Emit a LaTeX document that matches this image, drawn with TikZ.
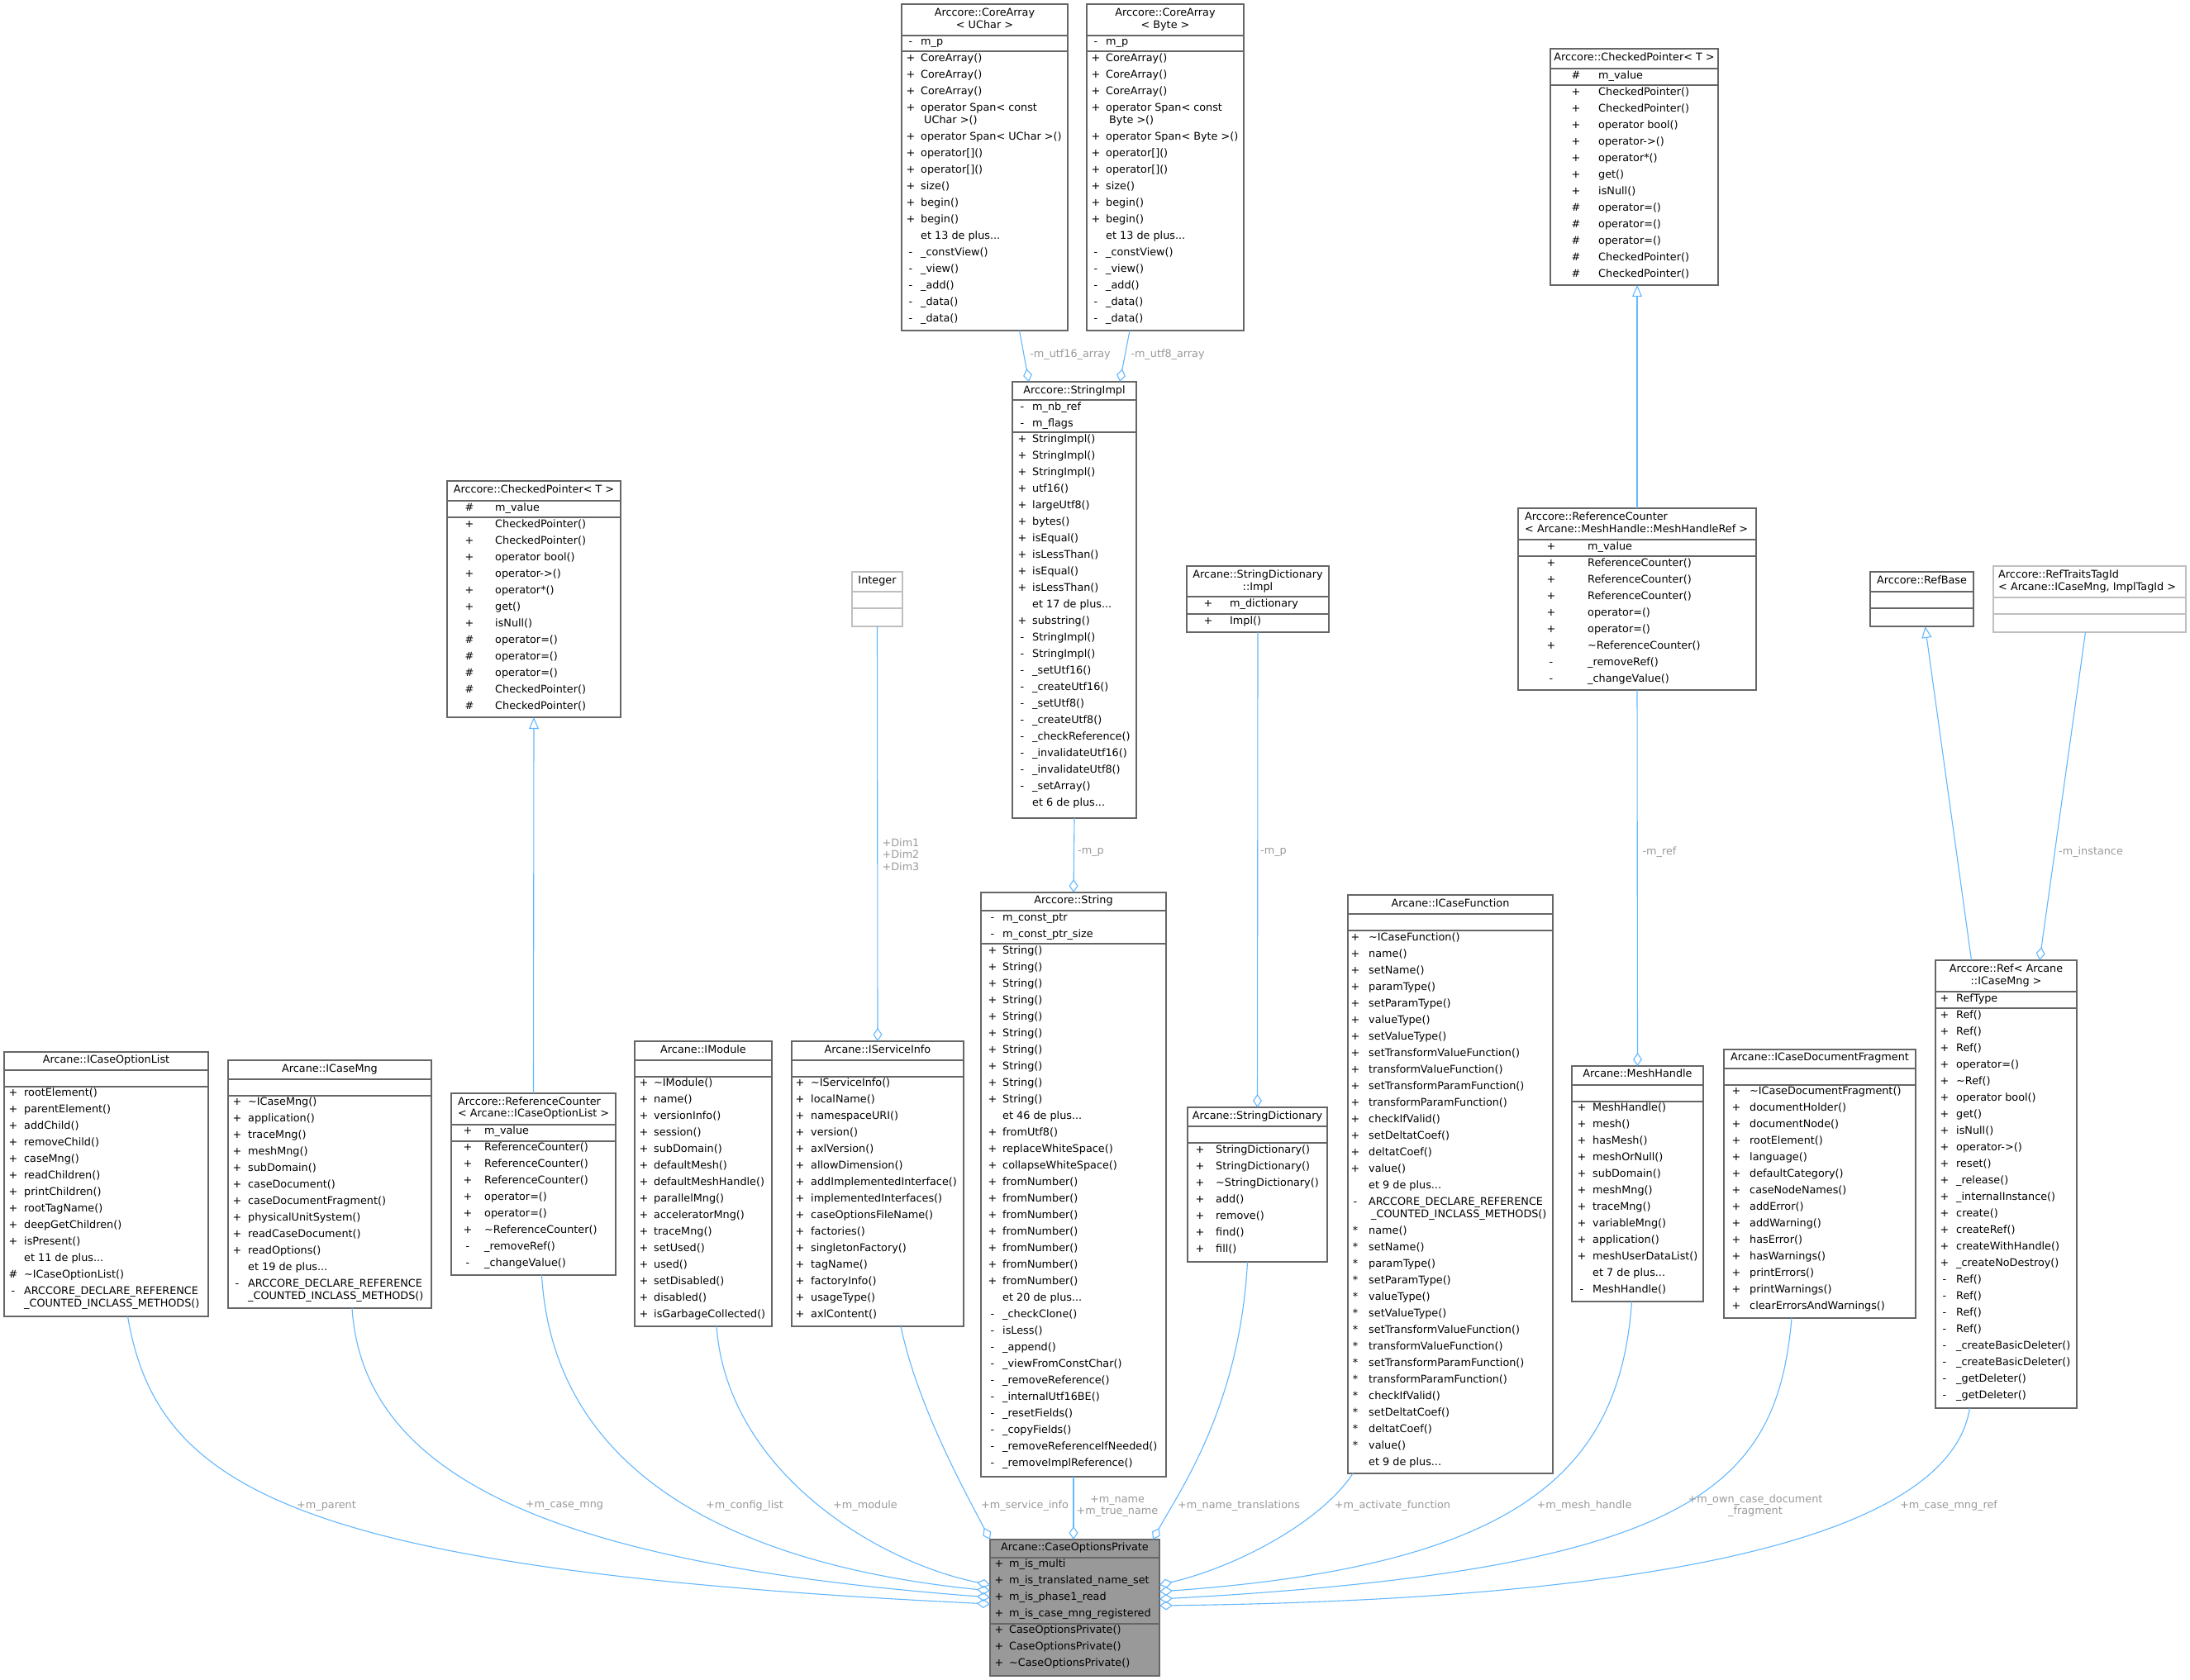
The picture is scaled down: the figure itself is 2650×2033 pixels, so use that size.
\documentclass[tikz,border=0pt]{standalone}
\usepackage{fontspec}
\setmainfont{DejaVu Sans}
\usetikzlibrary{arrows.meta,calc}
\definecolor{edgeblue}{HTML}{63B8FF}
\definecolor{lblgray}{HTML}{9A9A9A}
\definecolor{boxgray}{HTML}{666666}
\definecolor{lightbox}{HTML}{BFBFBF}
\definecolor{cpfill}{HTML}{999999}
\newcommand\dfont{\fontsize{12.8}{14.3}\selectfont}
\newcommand\etplus[1]{et #1 de plus...}
\def\contmark{c}
\tikzset{
  cls/.style={draw=boxgray, line width=1.2pt, fill=white, inner sep=0pt, outer sep=0pt},
  clslight/.style={cls, draw=lightbox},
  clsmain/.style={cls, fill=cpfill},
  symb/.style={anchor=mid, inner sep=0pt, font=\dfont},
  memb/.style={anchor=mid west, inner sep=0pt, font=\dfont},
  ttl/.style={anchor=mid, inner sep=0pt, font=\dfont},
  ttll/.style={anchor=mid west, inner sep=0pt, font=\dfont},
  agg/.style={draw=edgeblue, line width=1.1pt, -{Diamond[open, length=16pt, width=11pt]}},
  inh/.style={draw=edgeblue, line width=1.1pt, -{Triangle[open, length=14pt, width=12pt]}},
  elabel/.style={anchor=center, inner sep=0pt, font=\dfont, text=lblgray, align=center},
}
\newcommand{\umlclass}[8]{%
  \pgfmathsetmacro\bw{#4-#2}\pgfmathsetmacro\bh{#5-#3}%
  \node[#8, minimum width=\bw pt, minimum height=\bh pt, anchor=north west] (#1) at (#2,#3) {};
  \draw[#8, fill=none] (#2,#6) -- (#4,#6);
  \draw[#8, fill=none] (#2,#7) -- (#4,#7);
}
\newcommand{\mrows}[5]{%
  \xdef\cury{#4}%
  \foreach \msym/\mtxt [count=\ri] in {#5}{%
    \ifx\msym\contmark
      \pgfmathsetmacro\yy{\cury-5.7}%
    \else
      \pgfmathsetmacro\yy{\cury}%
      \node[symb] (#1-s\ri) at (#2,\yy) {\msym};
    \fi
    \node[memb] (#1-t\ri) at (#3,\yy) {\mtxt};
    \pgfmathsetmacro\nexty{\yy+20}%
    \xdef\cury{\nexty}%
  }%
}
\begin{document}
\begin{tikzpicture}[x=1pt,y=-1pt]
\fill[white] (0,0) rectangle (2650,2033);
\useasboundingbox (0,0) rectangle (2650,2033);
% ---------- CoreArray<UChar>
\umlclass{ca1}{1091}{5}{1292}{400}{43}{62}{cls}
\node[ttl] (ca1-h1) at (1191.5,16.7) {Arccore::CoreArray};
\node[ttl] (ca1-h2) at (1191.5,31.7) {< UChar >};
\mrows{ca1a}{1102}{1114}{52}{-/m\_p}
\mrows{ca1m}{1102}{1114}{72}{+/CoreArray(),+/CoreArray(),+/CoreArray(),+/operator Span< const,c/{\hspace{4pt}UChar >()},+/operator Span< UChar >(),+/operator[](),+/operator[](),+/size(),+/begin(),+/begin(),{}/\etplus{13},-/\_constView(),-/\_view(),-/\_add(),-/\_data(),-/\_data()}
% ---------- CoreArray<Byte>
\umlclass{ca2}{1315}{5}{1505}{400}{43}{62}{cls}
\node[ttl] (ca2-h1) at (1410,16.7) {Arccore::CoreArray};
\node[ttl] (ca2-h2) at (1410,31.7) {< Byte >};
\mrows{ca2a}{1326}{1338}{52}{-/m\_p}
\mrows{ca2m}{1326}{1338}{72}{+/CoreArray(),+/CoreArray(),+/CoreArray(),+/operator Span< const,c/{\hspace{4pt}Byte >()},+/operator Span< Byte >(),+/operator[](),+/operator[](),+/size(),+/begin(),+/begin(),{}/\etplus{13},-/\_constView(),-/\_view(),-/\_add(),-/\_data(),-/\_data()}
% ---------- CheckedPointer right
\umlclass{cpr}{1876}{59}{2079}{345}{83}{103}{cls}
\node[ttl] (cpr-h1) at (1977.5,71) {Arccore::CheckedPointer< T >};
\mrows{cpra}{1907}{1934}{93}{\#/m\_value}
\mrows{cprm}{1907}{1934}{113}{+/CheckedPointer(),+/CheckedPointer(),+/operator bool(),+/operator->(),+/operator*(),+/get(),+/isNull(),\#/operator=(),\#/operator=(),\#/operator=(),\#/CheckedPointer(),\#/CheckedPointer()}
% ---------- CheckedPointer left
\umlclass{cpl}{541}{582}{751}{868}{606}{626}{cls}
\node[ttl] (cpl-h1) at (646,594) {Arccore::CheckedPointer< T >};
\mrows{cpla}{568}{599}{616}{\#/m\_value}
\mrows{cplm}{568}{599}{636}{+/CheckedPointer(),+/CheckedPointer(),+/operator bool(),+/operator->(),+/operator*(),+/get(),+/isNull(),\#/operator=(),\#/operator=(),\#/operator=(),\#/CheckedPointer(),\#/CheckedPointer()}
% ---------- StringImpl
\umlclass{si}{1225}{462}{1375}{990}{484}{523}{cls}
\node[ttl] (si-h1) at (1300,474) {Arccore::StringImpl};
\mrows{sia}{1237}{1249}{494}{-/m\_nb\_ref,-/m\_flags}
\mrows{sim}{1237}{1249}{533}{+/StringImpl(),+/StringImpl(),+/StringImpl(),+/utf16(),+/largeUtf8(),+/bytes(),+/isEqual(),+/isLessThan(),+/isEqual(),+/isLessThan(),{}/\etplus{17},+/substring(),-/StringImpl(),-/StringImpl(),-/\_setUtf16(),-/\_createUtf16(),-/\_setUtf8(),-/\_createUtf8(),-/\_checkReference(),-/\_invalidateUtf16(),-/\_invalidateUtf8(),-/\_setArray(),{}/\etplus{6}}
% ---------- String
\umlclass{str}{1187}{1080}{1411}{1787}{1102}{1142}{cls}
\node[ttl] (str-h1) at (1299,1091) {Arccore::String};
\mrows{stra}{1201}{1213}{1112}{-/m\_const\_ptr,-/m\_const\_ptr\_size}
\mrows{strm}{1201}{1213}{1152}{+/String(),+/String(),+/String(),+/String(),+/String(),+/String(),+/String(),+/String(),+/String(),+/String(),{}/\etplus{46},+/fromUtf8(),+/replaceWhiteSpace(),+/collapseWhiteSpace(),+/fromNumber(),+/fromNumber(),+/fromNumber(),+/fromNumber(),+/fromNumber(),+/fromNumber(),+/fromNumber(),{}/\etplus{20},-/\_checkClone(),-/isLess(),-/\_append(),-/\_viewFromConstChar(),-/\_removeReference(),-/\_internalUtf16BE(),-/\_resetFields(),-/\_copyFields(),-/\_removeReferenceIfNeeded(),-/\_removeImplReference()}
% ---------- Integer
\umlclass{int}{1031}{692}{1092}{758}{716}{736}{clslight}
\node[ttl] (int-h1) at (1061.5,704) {Integer};
% ---------- StringDictionary::Impl
\umlclass{sdi}{1436}{685}{1608}{765}{722}{743}{cls}
\node[ttl] (sdi-h1) at (1522,697) {Arcane::StringDictionary};
\node[ttl] (sdi-h2) at (1522,712) {::Impl};
\mrows{sdia}{1462}{1488}{732}{+/m\_dictionary}
\mrows{sdim}{1462}{1488}{753}{+/Impl()}
% ---------- StringDictionary
\umlclass{sd}{1437}{1340}{1606}{1527}{1363}{1383}{cls}
\node[ttl] (sd-h1) at (1521.5,1352) {Arcane::StringDictionary};
\mrows{sdm}{1452}{1471}{1393}{+/StringDictionary(),+/StringDictionary(),+/\textasciitilde StringDictionary(),+/add(),+/remove(),+/find(),+/fill()}
% ---------- ICaseFunction
\umlclass{icf}{1631}{1083}{1879}{1783}{1106}{1126}{cls}
\node[ttl] (icf-h1) at (1755,1095) {Arcane::ICaseFunction};
\mrows{icfm}{1640}{1656}{1136}{+/\textasciitilde ICaseFunction(),+/name(),+/setName(),+/paramType(),+/setParamType(),+/valueType(),+/setValueType(),+/setTransformValueFunction(),+/transformValueFunction(),+/setTransformParamFunction(),+/transformParamFunction(),+/checkIfValid(),+/setDeltatCoef(),+/deltatCoef(),+/value(),{}/\etplus{9},-/ARCCORE\_DECLARE\_REFERENCE,c/{\hspace{3pt}\_COUNTED\_INCLASS\_METHODS()},*/name(),*/setName(),*/paramType(),*/setParamType(),*/valueType(),*/setValueType(),*/setTransformValueFunction(),*/transformValueFunction(),*/setTransformParamFunction(),*/transformParamFunction(),*/checkIfValid(),*/setDeltatCoef(),*/deltatCoef(),*/value(),{}/\etplus{9}}
% ---------- ICaseOptionList
\umlclass{iol}{5}{1273}{252}{1593}{1295}{1315}{cls}
\node[ttl] (iol-h1) at (128.5,1284) {Arcane::ICaseOptionList};
\mrows{iolm}{16}{29}{1324}{+/rootElement(),+/parentElement(),+/addChild(),+/removeChild(),+/caseMng(),+/readChildren(),+/printChildren(),+/rootTagName(),+/deepGetChildren(),+/isPresent(),{}/\etplus{11},\#/\textasciitilde ICaseOptionList(),-/ARCCORE\_DECLARE\_REFERENCE,c/\_COUNTED\_INCLASS\_METHODS()}
% ---------- ICaseMng
\umlclass{icm}{276}{1283}{522}{1583}{1306}{1326}{cls}
\node[ttl] (icm-h1) at (399,1295) {Arcane::ICaseMng};
\mrows{icmm}{287}{300}{1335}{+/\textasciitilde ICaseMng(),+/application(),+/traceMng(),+/meshMng(),+/subDomain(),+/caseDocument(),+/caseDocumentFragment(),+/physicalUnitSystem(),+/readCaseDocument(),+/readOptions(),{}/\etplus{19},-/ARCCORE\_DECLARE\_REFERENCE,c/\_COUNTED\_INCLASS\_METHODS()}
% ---------- ReferenceCounter<ICaseOptionList>
\umlclass{rcl}{546}{1323}{745}{1543}{1361}{1381}{cls}
\node[ttll] (rcl-h1) at (554,1335) {Arccore::ReferenceCounter};
\node[ttll] (rcl-h2) at (554,1349) {< Arcane::ICaseOptionList >};
\mrows{rcla}{566}{586}{1370}{+/m\_value}
\mrows{rclm}{566}{586}{1390}{+/ReferenceCounter(),+/ReferenceCounter(),+/ReferenceCounter(),+/operator=(),+/operator=(),+/\textasciitilde ReferenceCounter(),-/\_removeRef(),-/\_changeValue()}
% ---------- IModule
\umlclass{imod}{768}{1260}{934}{1605}{1283}{1303}{cls}
\node[ttl] (imod-h1) at (851,1272) {Arcane::IModule};
\mrows{imodm}{779}{791}{1312}{+/\textasciitilde IModule(),+/name(),+/versionInfo(),+/session(),+/subDomain(),+/defaultMesh(),+/defaultMeshHandle(),+/parallelMng(),+/acceleratorMng(),+/traceMng(),+/setUsed(),+/used(),+/setDisabled(),+/disabled(),+/isGarbageCollected()}
% ---------- IServiceInfo
\umlclass{isi}{958}{1260}{1166}{1605}{1283}{1303}{cls}
\node[ttl] (isi-h1) at (1062,1272) {Arcane::IServiceInfo};
\mrows{isim}{968}{981}{1312}{+/\textasciitilde IServiceInfo(),+/localName(),+/namespaceURI(),+/version(),+/axlVersion(),+/allowDimension(),+/addImplementedInterface(),+/implementedInterfaces(),+/caseOptionsFileName(),+/factories(),+/singletonFactory(),+/tagName(),+/factoryInfo(),+/usageType(),+/axlContent()}
% ---------- ReferenceCounter<MeshHandleRef>
\umlclass{rcm}{1837}{615}{2125}{835}{653}{673}{cls}
\node[ttll] (rcm-h1) at (1845,627) {Arccore::ReferenceCounter};
\node[ttll] (rcm-h2) at (1845,642) {< Arcane::MeshHandle::MeshHandleRef >};
\mrows{rcma}{1877}{1921}{663}{+/m\_value}
\mrows{rcmm}{1877}{1921}{683}{+/ReferenceCounter(),+/ReferenceCounter(),+/ReferenceCounter(),+/operator=(),+/operator=(),+/\textasciitilde ReferenceCounter(),-/\_removeRef(),-/\_changeValue()}
% ---------- MeshHandle
\umlclass{mh}{1902}{1290}{2061}{1575}{1313}{1333}{cls}
\node[ttl] (mh-h1) at (1981.5,1301) {Arcane::MeshHandle};
\mrows{mhm}{1914}{1927}{1342}{+/MeshHandle(),+/mesh(),+/hasMesh(),+/meshOrNull(),+/subDomain(),+/meshMng(),+/traceMng(),+/variableMng(),+/application(),+/meshUserDataList(),{}/\etplus{7},-/MeshHandle()}
% ---------- ICaseDocumentFragment
\umlclass{icdf}{2086}{1270}{2318}{1595}{1293}{1313}{cls}
\node[ttl] (icdf-h1) at (2202,1281) {Arcane::ICaseDocumentFragment};
\mrows{icdfm}{2101}{2117}{1322}{+/\textasciitilde ICaseDocumentFragment(),+/documentHolder(),+/documentNode(),+/rootElement(),+/language(),+/defaultCategory(),+/caseNodeNames(),+/addError(),+/addWarning(),+/hasError(),+/hasWarnings(),+/printErrors(),+/printWarnings(),+/clearErrorsAndWarnings()}
% ---------- RefBase
\umlclass{rb}{2263}{692}{2388}{758}{716}{736}{cls}
\node[ttl] (rb-h1) at (2325.5,704) {Arccore::RefBase};
% ---------- RefTraitsTagId
\umlclass{rtt}{2412}{685}{2645}{765}{723}{743}{clslight}
\node[ttll] (rtt-h1) at (2418,697) {Arccore::RefTraitsTagId};
\node[ttll] (rtt-h2) at (2418,712) {< Arcane::ICaseMng, ImplTagId >};
% ---------- Ref<ICaseMng>
\umlclass{ref}{2342}{1162}{2513}{1704}{1200}{1220}{cls}
\node[ttl] (ref-h1) at (2427.5,1174) {Arccore::Ref< Arcane};
\node[ttl] (ref-h2) at (2427.5,1189) {::ICaseMng >};
\mrows{refa}{2353}{2367}{1210}{+/RefType}
\mrows{refm}{2353}{2367}{1230}{+/Ref(),+/Ref(),+/Ref(),+/operator=(),+/\textasciitilde Ref(),+/operator bool(),+/get(),+/isNull(),+/operator->(),+/reset(),+/\_release(),+/\_internalInstance(),+/create(),+/createRef(),+/createWithHandle(),+/\_createNoDestroy(),-/Ref(),-/Ref(),-/Ref(),-/Ref(),-/\_createBasicDeleter(),-/\_createBasicDeleter(),-/\_getDeleter(),-/\_getDeleter()}
% ---------- CaseOptionsPrivate
\umlclass{cp}{1198}{1863}{1403}{2028}{1885}{1965}{clsmain}
\node[ttl] (cp-h1) at (1300.5,1874) {Arcane::CaseOptionsPrivate};
\mrows{cpa}{1209}{1221}{1894}{+/m\_is\_multi,+/m\_is\_translated\_name\_set,+/m\_is\_phase1\_read,+/m\_is\_case\_mng\_registered}
\mrows{cpm}{1209}{1221}{1974}{+/CaseOptionsPrivate(),+/CaseOptionsPrivate(),+/\textasciitilde CaseOptionsPrivate()}
% ---------- edges into CaseOptionsPrivate
\draw[agg] ($(iol.south)+(26,0)$) .. controls (190,1800) and (350,1900) .. ($(cp.north west)+(0,78)$);
\draw[agg] ($(icm.south)+(27,0)$) .. controls (440,1800) and (700,1895) .. ($(cp.north west)+(0,70)$);
\draw[agg] ($(rcl.south)+(10,0)$) .. controls (670,1790) and (900,1895) .. ($(cp.north west)+(0,62)$);
\draw[agg] ($(imod.south)+(16,0)$) .. controls (880,1780) and (1060,1890) .. ($(cp.north west)+(0,55)$);
\draw[agg] ($(isi.south)+(28,0)$) .. controls (1110,1700) and (1165,1800) .. (cp.north west);
\draw[agg] (str.south) -- (str.south |- cp.north);
\draw[agg] ($(sd.south)+(-12,0)$) .. controls (1500,1700) and (1430,1800) .. ($(cp.north east)+(-8,0)$);
\draw[agg] ($(icf.south west)+(6,0)$) .. controls (1600,1840) and (1500,1895) .. ($(cp.north east)+(0,55)$);
\draw[agg] ($(mh.south)+(-7,0)$) .. controls (1960,1780) and (1840,1895) .. ($(cp.north east)+(0,63)$);
\draw[agg] ($(icdf.south)+(-34,0)$) .. controls (2150,1800) and (2050,1900) .. ($(cp.north east)+(0,72)$);
\draw[agg] ($(ref.south)+(-44,0)$) .. controls (2360,1850) and (2050,1935) .. ($(cp.north east)+(0,80)$);
% ---------- other edges
\draw[agg] ($(ca1.south)+(42,0)$) -- ($(si.north west)+(20,0)$);
\draw[agg] ($(ca2.south)+(-43,0)$) -- ($(si.north east)+(-20,0)$);
\draw[agg] (si.south) -- (str.north);
\draw[agg] (int.south) -- (isi.north);
\draw[inh] (rcl.north) -- (cpl.south);
\draw[agg] (sdi.south) -- (sd.north);
\draw[inh] (rcm.north) -- (rcm.north |- cpr.south);
\draw[agg] (rcm.south) -- (mh.north);
\draw[inh] ($(ref.north)+(-42,0)$) -- ($(rb.south)+(4,0)$);
\draw[agg] ($(rtt.south)+(-5,0)$) -- ($(ref.north east)+(-45,0)$);
% ---------- edge labels
\node[elabel] (l1) at (395,1822) {+m\_parent};
\node[elabel] (l2) at (683,1822) {+m\_case\_mng};
\node[elabel] (l3) at (901,1822) {+m\_config\_list};
\node[elabel] (l4) at (1047,1822) {+m\_module};
\node[elabel] (l5) at (1240,1822) {+m\_service\_info};
\node[elabel] (l6) at (1352,1823) {+m\_name\\+m\_true\_name};
\node[elabel] (l7) at (1499,1822) {+m\_name\_translations};
\node[elabel] (l8) at (1685,1822) {+m\_activate\_function};
\node[elabel] (l9) at (1917,1822) {+m\_mesh\_handle};
\node[elabel] (l10) at (2124,1822) {+m\_own\_case\_document\\\_fragment};
\node[elabel] (l11) at (2358,1822) {+m\_case\_mng\_ref};
\node[elabel] (l12) at (1295,429) {-m\_utf16\_array};
\node[elabel] (l13) at (1413,429) {-m\_utf8\_array};
\node[elabel] (l14) at (1320,1031) {-m\_p};
\node[elabel] (l15) at (1090,1034) {+Dim1\\+Dim2\\+Dim3};
\node[elabel] (l16) at (1541,1031) {-m\_p};
\node[elabel] (l17) at (2008,1031) {-m\_ref};
\node[elabel] (l18) at (2530,1031) {-m\_instance};
\end{tikzpicture}
\end{document}
